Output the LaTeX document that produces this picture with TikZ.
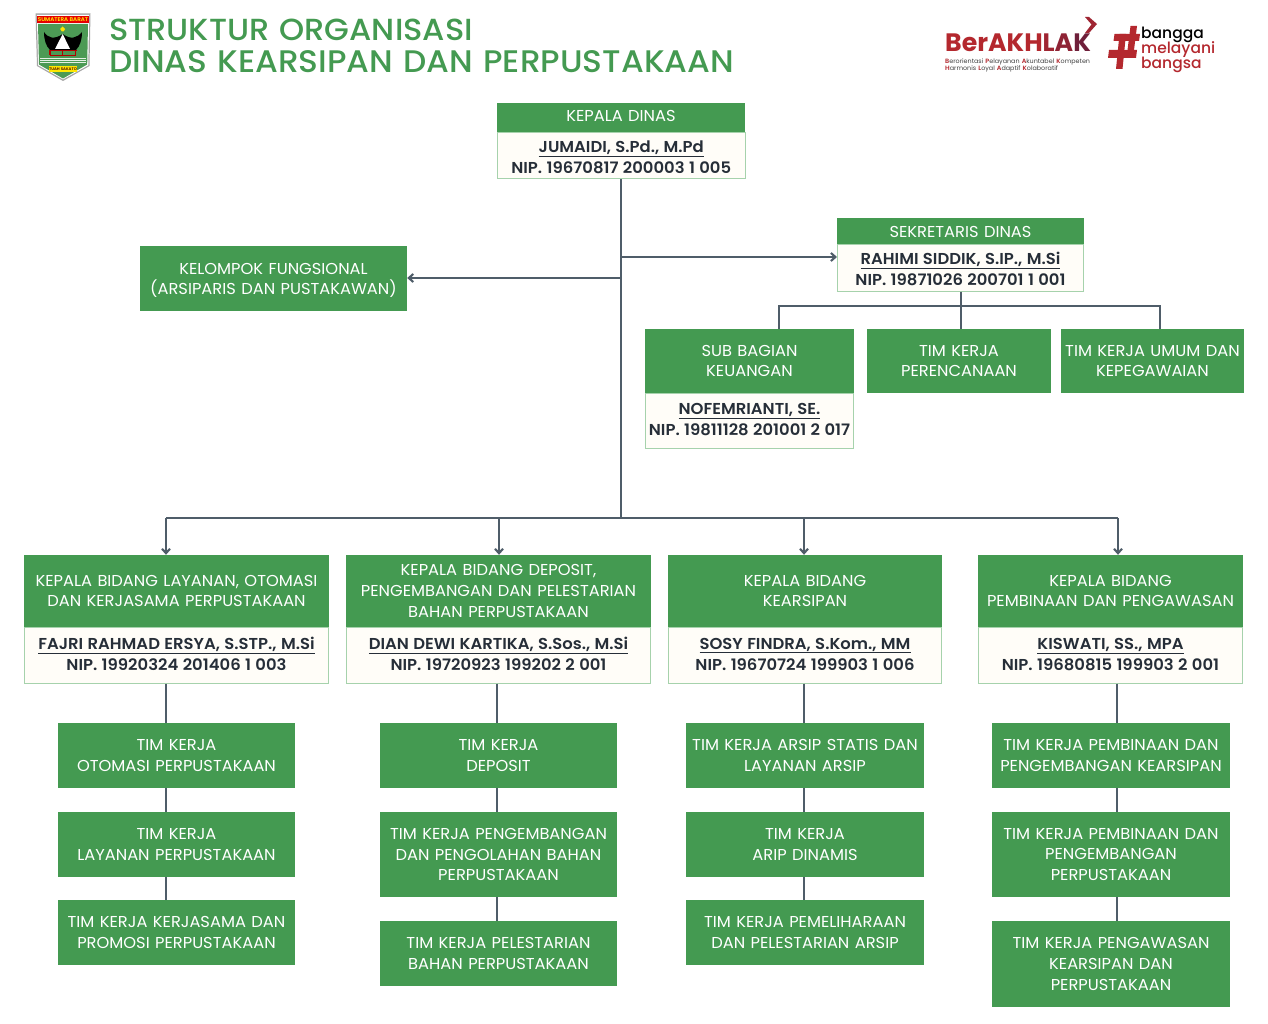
\documentclass[tikz,border=0pt]{standalone}
\usepackage{fontspec}
\setmainfont{Poppins}[WordSpace=1.25,FakeStretch=1.03]
\newfontfamily\boldf{Poppins SemiBold}[WordSpace=1.12,FakeStretch=1.04]
\newfontfamily\titlefont{Poppins Medium}[FakeStretch=1.05,WordSpace=1.2]
\newfontfamily\logofont{Poppins Medium}
\newfontfamily\berfont{Poppins}
\definecolor{grn}{HTML}{449A51}
\definecolor{lne}{HTML}{4F5D69}
\definecolor{bodyfill}{HTML}{FFFDF8}
\definecolor{bodyline}{HTML}{A6D2AC}
\definecolor{inkd}{HTML}{262E38}
\definecolor{logored}{HTML}{B4282E}
\definecolor{logodark}{HTML}{6E1F3A}
\definecolor{arm}{HTML}{4C9A55}
\usetikzlibrary{arrows.meta}
\tikzset{
 x=1pt,y=-1pt,
 head/.style={fill=grn,draw=none,text=white,inner sep=0pt,align=center,font=\fontsize{15.8}{20.8}\selectfont},
 bodybox/.style={fill=bodyfill,draw=bodyline,line width=1pt,text=inkd,inner sep=0pt,align=center,font=\fontsize{15.8}{21}\selectfont\boldf},
 conn/.style={draw=lne,line width=2.1pt},
 arr/.style={conn,-{Straight Barb[length=4.5pt,width=8pt]}},
 title/.style={text=grn,inner sep=0pt,anchor=west},
}
\newcommand{\bx}[7][head]{\node[#1,minimum width=#4-#2,minimum height=#5-#3] (#6) at ({(#2+#4)/2},{(#3+#5)/2}) {#7};}
\newcommand{\nm}[2]{\underline{#1}\\#2}
\newcommand{\nmdn}[2]{\rule{0pt}{14.5pt}\underline{#1}\\#2}
\newcommand{\nmup}[2]{\underline{#1}\\#2\rule[-2pt]{0pt}{2pt}}
\begin{document}
\begin{tikzpicture}
\useasboundingbox (0,0) rectangle (1268,1024);
\fill[white] (0,0) rectangle (1268,1024);
\coordinate (tj1) at (621,257);
\coordinate (tj2) at (621,278);
\coordinate (tj3) at (621,518);
\coordinate (a1) at (166,518);
\coordinate (a2) at (499,518);
\coordinate (a3) at (804,518);
\coordinate (a4) at (1118,518);
\coordinate (sj) at (961,306);
\coordinate (sl) at (779,306);
\coordinate (sr) at (1160,306);
% boxes
\bx[head,text depth=4pt]{497}{103}{745}{133}{kh}{KEPALA DINAS}
\bx[bodybox]{497.5}{133}{745}{179}{kb}{\nmdn{JUMAIDI, S.Pd., M.Pd}{NIP. 19670817 200003 1 005}}
\bx{837}{218}{1084}{245}{sh}{SEKRETARIS DINAS}
\bx[bodybox]{837.5}{245}{1083.5}{291}{sb}{\nmdn{RAHIMI SIDDIK, S.IP., M.Si}{NIP. 19871026 200701 1 001}}
\bx{140}{246}{407}{311}{fu}{\rule{0pt}{15pt}KELOMPOK FUNGSIONAL\\[-0.8pt](ARSIPARIS DAN PUSTAKAWAN)}
\bx{645}{329}{854}{393}{kuh}{SUB BAGIAN\\KEUANGAN}
\bx[bodybox]{645.5}{393}{853.5}{448}{kub}{\nmup{NOFEMRIANTI, SE.}{NIP. 19811128 201001 2 017}}
\bx{867}{329}{1051}{393}{per}{TIM KERJA\\PERENCANAAN}
\bx{1061}{329}{1244}{393}{umu}{TIM KERJA UMUM DAN\\KEPEGAWAIAN}
\bx{24}{555}{329}{627}{b1h}{KEPALA BIDANG LAYANAN, OTOMASI\\DAN KERJASAMA PERPUSTAKAAN}
\bx[bodybox]{24.5}{627}{328.5}{683}{b1b}{\nmup{FAJRI RAHMAD ERSYA, S.STP., M.Si}{NIP. 19920324 201406 1 003}}
\bx{346}{555}{651}{627}{b2h}{KEPALA BIDANG DEPOSIT,\\PENGEMBANGAN DAN PELESTARIAN\\BAHAN PERPUSTAKAAN}
\bx[bodybox]{346.5}{627}{650.5}{683}{b2b}{\nmup{DIAN DEWI KARTIKA, S.Sos., M.Si}{NIP. 19720923 199202 2 001}}
\bx{668}{555}{942}{627}{b3h}{KEPALA BIDANG\\KEARSIPAN}
\bx[bodybox]{668.5}{627}{941.5}{683}{b3b}{\nmup{SOSY FINDRA, S.Kom., MM}{NIP. 19670724 199903 1 006}}
\bx{978}{555}{1243}{627}{b4h}{KEPALA BIDANG\\PEMBINAAN DAN PENGAWASAN}
\bx[bodybox]{978.5}{627}{1242.5}{683}{b4b}{\nm{KISWATI, SS., MPA}{NIP. 19680815 199903 2 001}}
\bx{58}{723}{295}{788}{t11}{TIM KERJA\\OTOMASI PERPUSTAKAAN}
\bx{58}{812}{295}{877}{t12}{TIM KERJA\\LAYANAN PERPUSTAKAAN}
\bx{58}{900}{295}{965}{t13}{TIM KERJA KERJASAMA DAN\\PROMOSI PERPUSTAKAAN}
\bx{380}{723}{617}{788}{t21}{TIM KERJA\\DEPOSIT}
\bx{380}{812}{617}{897}{t22}{TIM KERJA PENGEMBANGAN\\DAN PENGOLAHAN BAHAN\\PERPUSTAKAAN}
\bx{380}{921}{617}{986}{t23}{TIM KERJA PELESTARIAN\\BAHAN PERPUSTAKAAN}
\bx{686}{723}{924}{788}{t31}{TIM KERJA ARSIP STATIS DAN\\LAYANAN ARSIP}
\bx{686}{812}{924}{877}{t32}{TIM KERJA\\ARIP DINAMIS}
\bx{686}{900}{924}{965}{t33}{TIM KERJA PEMELIHARAAN\\DAN PELESTARIAN ARSIP}
\bx{992}{723}{1230}{788}{t41}{TIM KERJA PEMBINAAN DAN\\PENGEMBANGAN KEARSIPAN}
\bx{992}{812}{1230}{897}{t42}{TIM KERJA PEMBINAAN DAN\\PENGEMBANGAN\\PERPUSTAKAAN}
\bx{992}{921}{1230}{1007}{t43}{TIM KERJA PENGAWASAN\\KEARSIPAN DAN\\PERPUSTAKAAN}
% connectors
\draw[conn] (kb.south -| tj3) -- (tj3);
\draw[arr] (tj1) -- (tj1 -| sb.west);
\draw[arr] (tj2) -- (tj2 -| fu.east);
\draw[conn] (a1) -- (a4);
\draw[arr] (a1) -- (a1 |- b1h.north);
\draw[arr] (a2) -- (a2 |- b2h.north);
\draw[arr] (a3) -- (a3 |- b3h.north);
\draw[arr] (a4) -- (a4 |- b4h.north);
\draw[conn] (sj |- sb.south) -- (sj |- per.north);
\draw[conn] (sl |- kuh.north) -- (sl) -- (sr) -- (sr |- umu.north);
\coordinate (c1) at (166,700); \coordinate (c2) at (497,700); \coordinate (c3) at (804,700); \coordinate (c4) at (1117,700);
\draw[conn] (c1 |- b1b.south) -- (c1 |- t11.north);
\draw[conn] (c1 |- t11.south) -- (c1 |- t12.north);
\draw[conn] (c1 |- t12.south) -- (c1 |- t13.north);
\draw[conn] (c2 |- b2b.south) -- (c2 |- t21.north);
\draw[conn] (c2 |- t21.south) -- (c2 |- t22.north);
\draw[conn] (c2 |- t22.south) -- (c2 |- t23.north);
\draw[conn] (c3 |- b3b.south) -- (c3 |- t31.north);
\draw[conn] (c3 |- t31.south) -- (c3 |- t32.north);
\draw[conn] (c3 |- t32.south) -- (c3 |- t33.north);
\draw[conn] (c4 |- b4b.south) -- (c4 |- t41.north);
\draw[conn] (c4 |- t41.south) -- (c4 |- t42.north);
\draw[conn] (c4 |- t42.south) -- (c4 |- t43.north);
% title
\node[title,font=\fontsize{30.5}{32}\selectfont\titlefont] (ti1) at (109,29.6) {STRUKTUR ORGANISASI};
\node[title,font=\fontsize{31.2}{32}\selectfont\titlefont] (ti2) at (109,61.6) {DINAS KEARSIPAN DAN PERPUSTAKAAN};
% coat of arms
\fill[gray!70] (35.5,13.5) -- (90.5,13.5) -- (89.5,66) -- (63,81) -- (37,66) -- cycle;
\fill[white] (36.8,14.8) -- (89.2,14.8) -- (88.3,65.3) -- (63,79.4) -- (38.2,65.3) -- cycle;
\fill[arm] (38,24) -- (88,24) -- (87.2,64.5) -- (63,78.5) -- (39,64.5) -- cycle;
\fill[red!90!black] (37.3,15.7) rectangle (88.7,23.3);
\node[text=yellow,inner sep=0pt,font=\fontsize{5.4}{6}\selectfont\boldf] (armt) at (63,19.6) {SUMATERA BARAT};
\fill[black] (44,32) .. controls (48,38) and (54,40) .. (62.7,34) .. controls (71,40) and (77,38) .. (82,32) .. controls (82,40) and (80,46) .. (76,50) -- (50,50) .. controls (46,46) and (44,40) .. (44,32) -- cycle;
\fill[white] (62.7,34) -- (70,49) -- (55,49) -- cycle;
\fill[yellow!85!orange] (62.7,26.5) -- (65.2,29) -- (63.5,31.5) -- (61.9,31.5) -- (60.2,29) -- cycle;
\draw[red!70!black,line width=1.4pt] (48.5,50.5) -- (77,50.5) (50,55.5) -- (75.5,55.5) (50,50) -- (50,55.5) (75.5,50) -- (75.5,55.5) (62.7,50) -- (62.7,55.5);
\draw[white!85!arm,line width=0.9pt] (40,58.5) -- (86,58.5) (40,60.5) -- (86,60.5) (40,62.6) -- (86,62.6);
\fill[yellow!90!orange] (49,66) rectangle (77,72);
\node[text=black!70!red,inner sep=0pt,font=\fontsize{3.8}{4}\selectfont\boldf] (armb) at (63,69) {TUAH SAKATO};
% BerAKHLAK
\node[inner sep=0pt,anchor=base west,font=\fontsize{25.2}{28}\selectfont\berfont\bfseries] (ber) at (945,52) {\textcolor{logored}{BerAKH}\textcolor{logored!70!logodark}{L}\textcolor{logored!45!logodark}{A}\textcolor{logodark}{K}};
\fill[logored!70!logodark] (1085,17) -- (1089,17) -- (1097,24) -- (1089,33) -- (1085,33) -- (1091.5,24.5) -- cycle;
\node[inner sep=0pt,anchor=base west,text=black!75,font=\fontsize{6.2}{7}\selectfont] (bt1) at (945,63.5) {\textcolor{logored}{\boldf B}erorientasi \textcolor{logored}{\boldf P}elayanan \textcolor{logored}{\boldf A}kuntabel \textcolor{logored}{\boldf K}ompeten};
\node[inner sep=0pt,anchor=base west,text=black!75,font=\fontsize{6.2}{7}\selectfont] (bt2) at (945,71) {\textcolor{logored}{\boldf H}armonis \textcolor{logored}{\boldf L}oyal \textcolor{logored}{\boldf A}daptif \textcolor{logored}{\boldf K}olaboratif};
% hash
\fill[logored] (1130.5,26) -- (1137,26) -- (1133,58) -- (1126.5,58) -- cycle;
\fill[logored] (1119.5,34) -- (1126,34) -- (1122.5,69) -- (1116,69) -- cycle;
\fill[logored] (1114.5,34) -- (1140,34) -- (1139,41) -- (1113.5,41) -- cycle;
\fill[logored] (1109,50) -- (1137,50) -- (1136,58) -- (1108,58) -- cycle;
\node[inner sep=0pt,anchor=base west,text=black,font=\fontsize{15.5}{17}\selectfont\logofont] (bg1) at (1141,39) {bangga};
\node[inner sep=0pt,anchor=base west,text=logored,font=\fontsize{15.5}{17}\selectfont\logofont] (bg2) at (1141,54) {melayani};
\node[inner sep=0pt,anchor=base west,text=logored,font=\fontsize{15.5}{17}\selectfont\logofont] (bg3) at (1141,69) {bangsa};
\end{tikzpicture}
\end{document}
